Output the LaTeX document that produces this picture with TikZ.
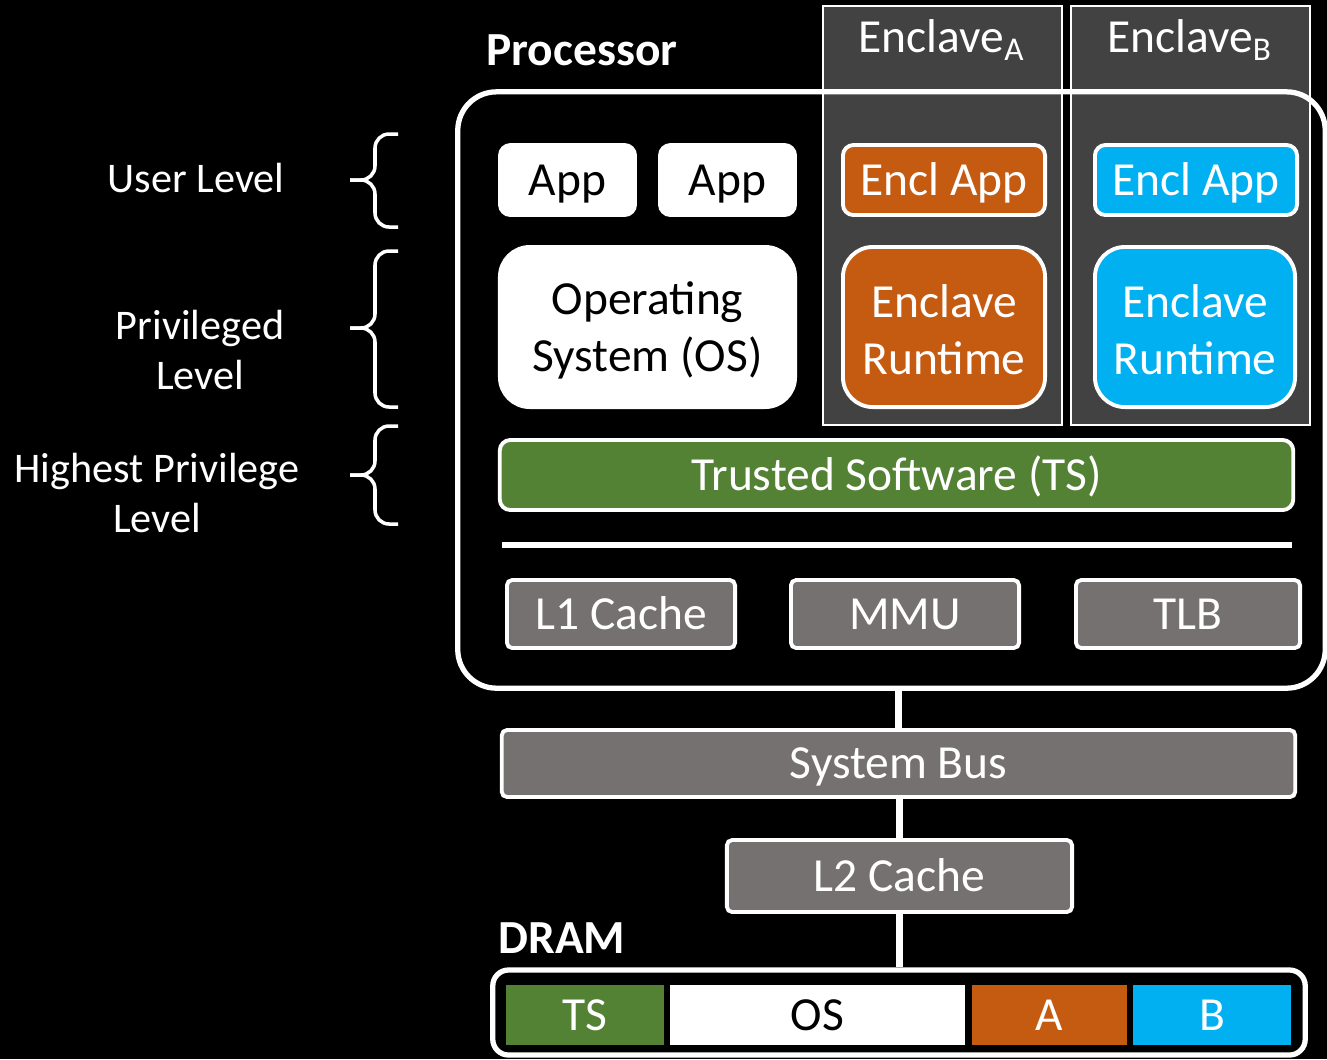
\documentclass[tikz,border=0pt]{standalone}
\usepackage{fontspec}
\setmainfont{Carlito}
\definecolor{enclorange}{HTML}{C55A11}
\definecolor{enclblue}{HTML}{00B0F0}
\definecolor{tsgreen}{HTML}{548235}
\definecolor{hwgray}{HTML}{767171}
\definecolor{colgray}{HTML}{424242}
\begin{document}
\begin{tikzpicture}[x=0.01cm,y=-0.01cm,
  capc/.style={text height=8.7pt,text depth=0pt},
  twoline/.style={txt,align=center,inner sep=0pt},
  txt/.style={font=\fontsize{13.5}{16.2}\selectfont},
  lbl/.style={text=white,align=center,font=\fontsize{12}{14.2}\selectfont},
  ttl/.style={text=white,font=\fontsize{13.5}{16}\selectfont\bfseries},
  swbox/.style={txt,capc,draw=white,line width=1.1pt,rounded corners=3pt,inner sep=0pt},
  bigbox/.style={draw=white,line width=1.1pt,rounded corners=8.5pt,minimum height=1.6cm},
  hwbox/.style={txt,capc,draw=white,line width=1.1pt,fill=hwgray,text=white,rounded corners=1.5pt,inner sep=0pt},
  membox/.style={txt,capc,inner sep=0pt,minimum height=0.6cm},
  colbox/.style={draw=white,line width=0.6pt,fill=colgray,minimum width=2.39cm,minimum height=4.19cm},
  brc/.style={draw=white,line width=1pt,rounded corners=4pt},
  link/.style={draw=white,line width=2pt}]
% background and page size
\fill[black] (0,0) rectangle (1327,1059);
\useasboundingbox (0,0) rectangle (1327,1059);

% enclave columns
\node[colbox] (colA) at (942.5,215.5) {};
\node[colbox] (colB) at (1190.5,215.5) {};
\node[txt,text=white] (headA) at (942,40) {Enclave\textsubscript{A}};
\node[txt,text=white] (headB) at (1190,40) {Enclave\textsubscript{B}};

% processor
\node[draw=white,line width=1.5pt,rounded corners=11pt,minimum width=8.67cm,minimum height=5.96cm] (proc) at (891.5,390) {};
\node[ttl] (proctitle) at (582,50) {Processor};

\node[swbox,fill=white,minimum width=1.35cm,minimum height=0.7cm] (app1) at (567.5,180) {App};
\node[swbox,fill=white,minimum width=1.35cm,minimum height=0.7cm] (app2) at (727.5,180) {App};
\node[swbox,fill=enclorange,text=white,minimum width=2.02cm,minimum height=0.7cm] (enclappA) at (944,180) {Encl App};
\node[swbox,fill=enclblue,text=white,minimum width=2.02cm,minimum height=0.7cm] (enclappB) at (1196,180) {Encl App};

\node[bigbox,fill=white,minimum width=2.95cm] (os) at (647.5,327) {};
\node[bigbox,fill=enclorange,minimum width=2.02cm] (rtA) at (944,327) {};
\node[bigbox,fill=enclblue,minimum width=2cm] (rtB) at (1195,327) {};
\node[twoline] (ostext) at (647.5,330) {Operating\\System (OS)};
\node[twoline,text=white] (rtAtext) at (944,330) {Enclave\\Runtime};
\node[twoline,text=white] (rtBtext) at (1195,330) {Enclave\\Runtime};

\node[swbox,fill=tsgreen,text=white,minimum width=7.93cm,minimum height=0.7cm] (ts) at (896.5,475) {Trusted Software (TS)};
\draw[white,line width=1.7pt] (502,545) -- (1292,545);

\node[hwbox,minimum width=2.28cm,minimum height=0.68cm] (l1) at (621,614) {L1 Cache};
\node[hwbox,minimum width=2.28cm,minimum height=0.68cm] (mmu) at (905,614) {MMU};
\node[hwbox,minimum width=2.24cm,minimum height=0.68cm] (tlb) at (1188,614) {TLB};

% bus and memory
\node[hwbox,minimum width=7.93cm,minimum height=0.67cm] (bus) at (898.5,763.5) {System Bus};
\node[hwbox,minimum width=3.45cm,minimum height=0.72cm] (l2) at (899.5,876) {L2 Cache};
\node[draw=white,line width=1.5pt,rounded corners=4.5pt,minimum width=8.12cm,minimum height=0.85cm] (dram) at (899,1012.5) {};
\node[ttl] (dramtitle) at (562,938) {DRAM};
\node[membox,fill=tsgreen,text=white,minimum width=1.58cm] (memts) at (585,1015) {TS};
\node[membox,fill=white,minimum width=2.95cm] (memos) at (817.5,1015) {OS};
\node[membox,fill=enclorange,text=white,minimum width=1.55cm] (mema) at (1049.5,1015) {A};
\node[membox,fill=enclblue,text=white,minimum width=1.58cm] (memb) at (1212,1015) {B};

\draw[link] (bus.north) -- (bus.north |- proc.south);
\draw[link] (l2.north) -- (l2.north |- bus.south);
\draw[link] (l2.south) -- (l2.south |- dram.north);

% privilege levels
\node[lbl] (user) at (196,178) {User Level};
\node[lbl] (priv) at (200,350) {Privileged\\Level};
\node[lbl] (high) at (157,493) {Highest Privilege\\Level};
\foreach \ya/\ym/\yb in {134/180/227, 251/328/407, 426/475/524} {
  \draw[brc] (398,\ya) -- (375,\ya) -- (375,\ym) -- (350,\ym);
  \draw[brc] (398,\yb) -- (375,\yb) -- (375,\ym) -- (350,\ym);
}
\end{tikzpicture}
\end{document}
